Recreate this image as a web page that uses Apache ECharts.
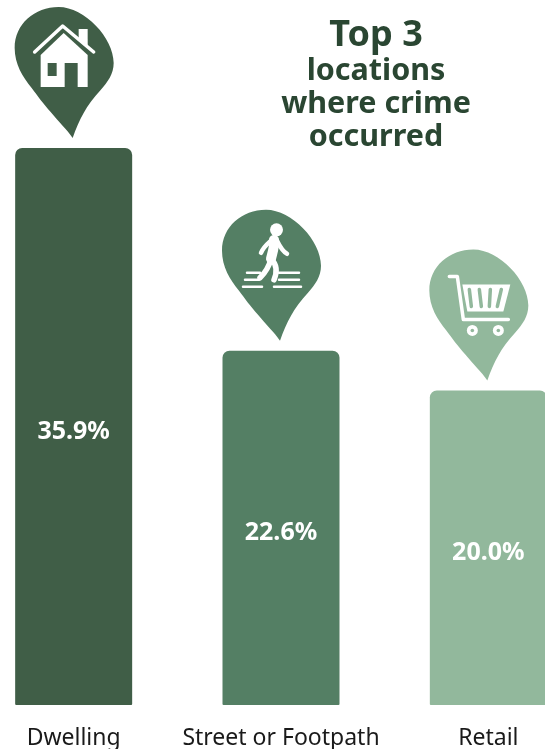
<!DOCTYPE html>
<html>
<head>
<meta charset="utf-8">
<title>Top 3 locations where crime occurred</title>
<script src="https://cdn.jsdelivr.net/npm/echarts@6/dist/echarts.min.js"></script>
<style>
html, body { margin: 0; padding: 0; background: #fff; }
#chart { width: 545px; height: 749px; }
</style>
</head>
<body>
<div id="chart"></div>
<script>
var categories = ['Dwelling', 'Street or Footpath', 'Retail'];
var values = [35.9, 22.6, 20.0];
var barColors = ['#405E47', '#547F64', '#92B89C'];

var AXIS_MIN = -0.63; // bars in the picture start a little under zero
var AXIS_MAX = 35.9;

var FONT = '"Noto Sans", sans-serif';
var WHITE = '#fff';

// pin outline, drawn from its tip at 0,0
var PIN = 'M0,0 C-6,-9 -14,-16 -22,-26 C-30,-35 -35,-42 -41,-50 C-50,-61 -58,-74 -58,-90 ' +
	'C-58,-114 -38,-131 -14,-131 C12,-131 41,-100 41,-75 C41,-64 35,-56 28,-48 C21,-40 15,-33 11,-25 C7,-18 3,-9 0,0 Z';

function pathEl(d, fill, stroke, lw) {
	return {
		type: 'path',
		shape: { pathData: d },
		style: { fill: fill, stroke: stroke, lineWidth: lw || 0, lineCap: 'round', lineJoin: 'round' }
	};
}

function circleEl(cx, cy, r, fill) {
	return { type: 'circle', shape: { cx: cx, cy: cy, r: r }, style: { fill: fill } };
}

function houseIcon(color) {
	return [
		pathEl('M-38,-86 L-10,-112 L21,-86', 'none', WHITE, 3.5),
		pathEl('M6,-109 L15,-109 L15,-92 L6,-99 Z', WHITE),
		pathEl('M-32,-83 L-9,-105 L15,-83 L15,-51 L-32,-51 Z', WHITE),
		pathEl('M-25,-75 L-16,-75 L-16,-62 L-25,-62 Z', color),
		pathEl('M-8,-75 L5,-75 L5,-51 L-8,-51 Z', color)
	];
}

function walkerIcon() {
	return [
		circleEl(-3.5, -111, 6.5, WHITE),
		pathEl('M-6,-101 C-5,-96 -7,-90 -9,-82', 'none', WHITE, 10),
		pathEl('M-7,-102 C-11,-98 -16,-95 -19,-88', 'none', WHITE, 4.5),
		pathEl('M-3,-100 C0,-94 3,-89 7,-87', 'none', WHITE, 4.5),
		pathEl('M-9,-82 C-11,-74 -15,-68 -20,-63', 'none', WHITE, 5.5),
		pathEl('M-9,-82 C-3,-76 -3,-68 -6,-61', 'none', WHITE, 5.5),
		pathEl('M-33,-68 L-20,-68 M-1,-68 L19,-68', 'none', WHITE, 2.5),
		pathEl('M-35,-61 L-21,-61 M-1,-61 L19,-61', 'none', WHITE, 2.5),
		pathEl('M-37,-54 L-18,-54 M-6,-54 L21,-54', 'none', WHITE, 2.5)
	];
}

function cartIcon(color) {
	return [
		pathEl('M-38,-104 L-30,-104 L-24,-61 L21,-61', 'none', WHITE, 3.5),
		pathEl('M-25,-96 L23,-96 L16,-69 L-20,-69 Z', WHITE),
		pathEl('M-18,-91 L-16,-74', 'none', color, 3.5),
		pathEl('M-8,-91 L-6,-74', 'none', color, 3.5),
		pathEl('M3,-91 L2,-74', 'none', color, 3.5),
		pathEl('M14,-91 L10,-74', 'none', color, 3.5),
		circleEl(-15, -50, 5.5, WHITE),
		circleEl(-15, -50, 1.8, color),
		circleEl(11, -50, 5.5, WHITE),
		circleEl(11, -50, 1.8, color)
	];
}

var iconMakers = [houseIcon, walkerIcon, cartIcon];

var chart = echarts.init(document.getElementById('chart'));
chart.setOption({
	animation: false,
	backgroundColor: '#fff',
	title: {
		text: '{big|Top 3}\n{sub|locations}\n{sub|where crime}\n{sub|occurred}',
		left: 371,
		top: 12,
		textAlign: 'center',
		textStyle: {
			rich: {
				big: { fontFamily: FONT, fontSize: 36, fontWeight: 'bold', color: '#2A4632', lineHeight: 38, align: 'center' },
				sub: { fontFamily: FONT, fontSize: 30.5, fontWeight: 'bold', color: '#2A4632', lineHeight: 33, align: 'center' }
			}
		}
	},
	grid: { left: -30, right: -47, top: 148, bottom: 44, outerBoundsMode: 'none' },
	xAxis: {
		type: 'category',
		data: categories,
		axisLine: { show: false },
		axisTick: { show: false },
		axisLabel: { fontFamily: FONT, fontSize: 23, color: '#1a1a1a', margin: 22, interval: 0 }
	},
	yAxis: { type: 'value', min: AXIS_MIN, max: AXIS_MAX, show: false, splitLine: { show: false } },
	series: [
		{
			// custom so the bar can start at the axis floor instead of at zero, pin on top
			type: 'custom',
			clip: false,
			silent: true,
			encode: { x: 0, y: 1 },
			data: values.map(function (v, i) { return [i, v]; }),
			renderItem: function (params, api) {
				var i = api.value(0);
				var v = api.value(1);
				var top = api.coord([i, v]);
				var floor = api.coord([i, AXIS_MIN]);
				var color = barColors[i];
				var barW = 117;
				return {
					type: 'group',
					children: [
						{
							type: 'rect',
							shape: { x: top[0] - barW / 2, y: top[1], width: barW, height: floor[1] - top[1], r: [7, 7, 1, 1] },
							style: { fill: color }
						},
						{
							type: 'text',
							x: top[0],
							y: (top[1] + floor[1]) / 2 + 5,
							style: {
								text: v.toFixed(1) + '%',
								fontFamily: FONT,
								fontSize: 25,
								fontWeight: 'bold',
								fill: WHITE,
								align: 'center',
								verticalAlign: 'middle'
							}
						},
						{
							type: 'group',
							x: top[0] - 1,
							y: top[1] - 10,
							children: [pathEl(PIN, color)].concat(iconMakers[i](color))
						}
					]
				};
			}
		}
	]
});
</script>
</body>
</html>
